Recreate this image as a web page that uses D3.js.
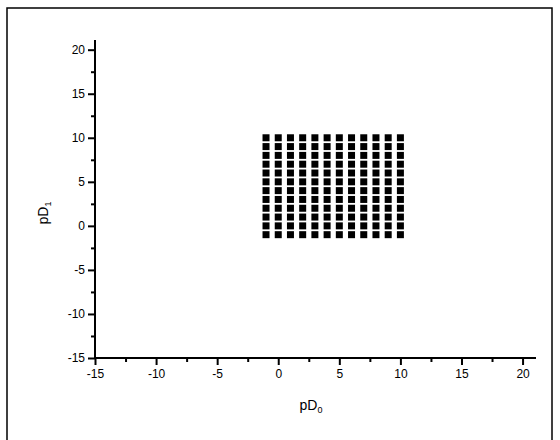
<!DOCTYPE html>
<html>
<head>
<meta charset="utf-8">
<script src="https://d3js.org/d3.v7.min.js"></script>
<style>
  body { margin: 0; background: #fff; }
  svg { display: block; font-family: 'Liberation Sans', Arial, sans-serif; }
</style>
</head>
<body>
<svg id="chart" width="560" height="440"></svg>
<script>
// grid points: pD0 and pD1 both run -1..10
const xValues = [-1, 0, 1, 2, 3, 4, 5, 6, 7, 8, 9, 10];
const yValues = [-1, 0, 1, 2, 3, 4, 5, 6, 7, 8, 9, 10];
const majorTicks = [-15, -10, -5, 0, 5, 10, 15, 20];
const minorTicks = [-12.5, -7.5, -2.5, 2.5, 7.5, 12.5, 17.5];

const svg = d3.select('#chart');

// outer frame
svg.append('rect')
  .attr('x', 7).attr('y', 8)
  .attr('width', 545).attr('height', 445)
  .attr('fill', 'none')
  .attr('stroke', '#000')
  .attr('stroke-width', 1.5);

const x = d3.scaleLinear().domain([-15, 21.1]).range([95, 536]);
const y = d3.scaleLinear().domain([-15, 21.1]).range([358, 40]);
const fmt = d => String(d); // plain hyphen minus like the original

// x axis
const xAxis = svg.append('g').attr('transform', `translate(0,${y(-15)})`);
xAxis.call(d3.axisBottom(x).tickValues(majorTicks).tickSize(7).tickPadding(4).tickFormat(fmt));
xAxis.append('g')
  .call(d3.axisBottom(x).tickValues(minorTicks).tickSize(4).tickFormat(''));

// y axis
const yAxis = svg.append('g').attr('transform', `translate(${x(-15)},0)`);
yAxis.call(d3.axisLeft(y).tickValues(majorTicks).tickSize(7).tickPadding(3).tickFormat(fmt));
yAxis.append('g')
  .call(d3.axisLeft(y).tickValues(minorTicks).tickSize(4).tickFormat(''));

svg.selectAll('.tick line').attr('stroke', '#000').attr('stroke-width', 2);
svg.selectAll('.tick text').attr('fill', '#000').attr('font-size', 12)
  .attr('font-family', "'Liberation Sans', Arial, sans-serif");
// drop the domain paths, draw plain axis lines instead
svg.selectAll('.domain').remove();
svg.append('line')
  .attr('x1', x(-15)).attr('x2', x(21.1))
  .attr('y1', y(-15)).attr('y2', y(-15))
  .attr('stroke', '#000').attr('stroke-width', 2);
svg.append('line')
  .attr('x1', x(-15)).attr('x2', x(-15))
  .attr('y1', y(-15)).attr('y2', y(21.1))
  .attr('stroke', '#000').attr('stroke-width', 2);

// data squares
const points = [];
yValues.forEach(v => xValues.forEach(u => points.push({ u, v })));
const size = 7;
svg.append('g').selectAll('rect')
  .data(points)
  .enter()
  .append('rect')
  .attr('x', d => x(d.u) - size / 2)
  .attr('y', d => y(d.v) - size / 2)
  .attr('width', size)
  .attr('height', size)
  .attr('fill', '#000');

// axis titles
const xt = svg.append('text')
  .attr('x', 311).attr('y', 410)
  .attr('text-anchor', 'middle')
  .attr('fill', '#000')
  .attr('font-size', 14);
xt.append('tspan').text('pD');
xt.append('tspan').attr('font-size', 9).attr('dy', 3).text('0');

const yt = svg.append('text')
  .attr('transform', 'translate(48,213) rotate(-90)')
  .attr('text-anchor', 'middle')
  .attr('fill', '#000')
  .attr('font-size', 14);
yt.append('tspan').text('pD');
yt.append('tspan').attr('font-size', 9).attr('dy', 3).text('1');
</script>
</body>
</html>
